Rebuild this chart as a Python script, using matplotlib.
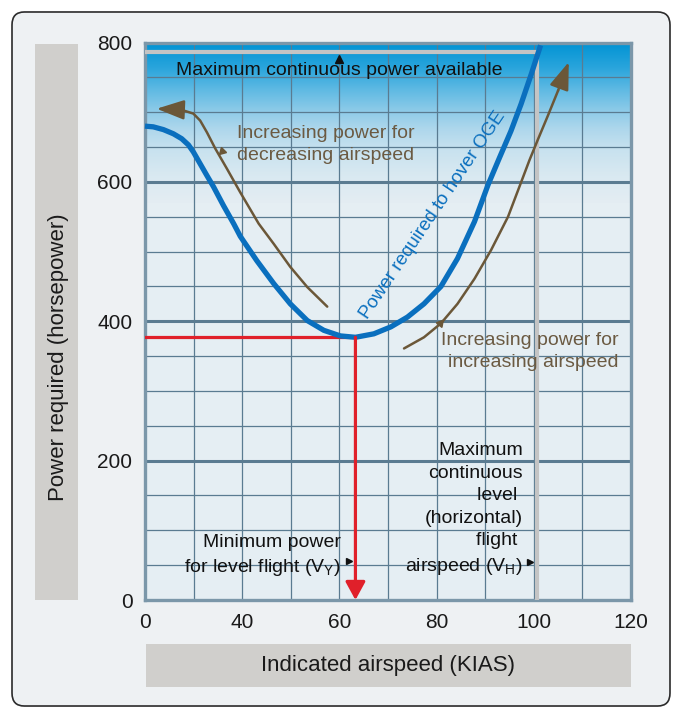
import numpy as np
import matplotlib
matplotlib.use("Agg")
import matplotlib.pyplot as plt
from matplotlib.patches import FancyBboxPatch, Rectangle
from matplotlib.colors import LinearSegmentedColormap

plt.rcParams['font.family'] = ['Liberation Sans', 'DejaVu Sans']

# power required curve (KIAS, hp)
curve_kias = [0, 3.4, 7.6, 11.7, 15.1, 17.9, 19.9, 22.7, 25.5, 28.2, 32.3, 36.5, 39.2,
              43, 46.5, 49.9, 53.4, 56.8, 60.2, 63.3, 67.1, 70.6, 74, 77.4, 80.9, 84.3,
              87.8, 90.6, 92.9, 95.3, 97.4, 99.5, 101.4]
curve_hp = [680, 679, 675, 669, 662, 653, 643, 626, 609, 593, 566, 540, 522,
            487, 454, 425, 401, 387, 379, 377, 382, 392, 406, 425, 450, 490,
            543, 596, 634, 673, 712, 755, 796]

# brown arrow, decreasing airspeed (drawn from tail to head)
dec_kias = [57.5, 53.4, 49.9, 46.5, 43.4, 39.2, 33.7, 28.9, 25.5, 22.7, 19.9, 15.8, 11.7, 4.8]
dec_hp = [421, 449, 478, 511, 540, 585, 619, 648, 671, 688, 698, 702.5, 704, 705]

# brown arrow, increasing airspeed
inc_kias = [73.3, 77.4, 80.9, 84.3, 87.8, 91.2, 94.7, 97.8, 99.1, 100.8, 102.9, 105, 107.2]
inc_hp = [361, 377, 397, 425, 461, 502, 550, 607, 631, 660, 695, 731, 772]

min_power_kias = 63.3
min_power_hp = 377
vh_kias = 100.6
max_cont_hp = 786

x_ticks = [0, 40, 60, 80, 100, 120]
y_ticks = [0, 200, 400, 600, 800]

blue = '#0a6fbe'
brown = '#6b5738'
brown_text = '#6b5a42'
red = '#e0202a'
gray = '#c4c4c4'
grid_c = '#5a7b91'


# axis is squeezed between 0 and 40 knots
def fwd(v):
    v = np.asarray(v, dtype=float)
    return np.where(v < 40, v / 2.0, v - 20.0)


def inv(u):
    u = np.asarray(u, dtype=float)
    return np.where(u < 20, u * 2.0, u + 20.0)


fig = plt.figure(figsize=(6.82, 7.18), dpi=100)
fig.patch.set_facecolor('white')

# outer frame and label boxes
fig.patches.append(FancyBboxPatch((0.0176, 0.0167), 0.9648, 0.9666,
                                  boxstyle='round,pad=0,rounding_size=0.018',
                                  transform=fig.transFigure, facecolor='#eef1f3',
                                  edgecolor='#2b2b2b', linewidth=1.2, zorder=0))
fig.patches.append(Rectangle((0.0513, 0.1643), 0.063, 0.7744, transform=fig.transFigure,
                             facecolor='#d0cfcc', edgecolor='none', zorder=1))
fig.patches.append(Rectangle((0.2141, 0.0432), 0.7111, 0.0599, transform=fig.transFigure,
                             facecolor='#d0cfcc', edgecolor='none', zorder=1))
fig.text(0.0865, 0.503, 'Power required (horsepower)', rotation=90, ha='center', va='center',
         fontsize=16, color='#1a1a1a')
fig.text(0.569, 0.0738, 'Indicated airspeed (KIAS)', ha='center', va='center',
         fontsize=16, color='#1a1a1a')

ax = fig.add_axes([0.2126, 0.1643, 0.7126, 0.7765])
ax.set_zorder(3)
ax.set_xscale('function', functions=(fwd, inv))
ax.set_xlim(0, 120)
ax.set_ylim(0, 800)
ax.set_facecolor('#e5eef3')

# blue gradient at the top
cmap = LinearSegmentedColormap.from_list('sky', [
    (0.0, '#e4edf3'), (0.17, '#d9e9f1'), (0.33, '#c8e2ef'), (0.46, '#aed7ec'),
    (0.58, '#8bcae8'), (0.71, '#5db9e3'), (0.84, '#2aa5dc'), (1.0, '#0093d4')])
grad = np.linspace(0, 1, 256).reshape(-1, 1)
ax.imshow(grad, cmap=cmap, aspect='auto', origin='lower', extent=[0, 1, 570 / 800, 1],
          transform=ax.transAxes, zorder=0, interpolation='bicubic')

# grid
for v in [20, 40, 50, 60, 70, 80, 90, 100, 110]:
    ax.axvline(v, color=grid_c, lw=0.9, zorder=1)
for h in range(50, 800, 50):
    ax.axhline(h, color=grid_c, lw=2.2 if h % 200 == 0 else 0.9, zorder=1)

for s in ax.spines.values():
    s.set_color('#7b97a9')
    s.set_linewidth(2.4)

ax.set_xticks(x_ticks)
ax.set_xticklabels([str(t) for t in x_ticks])
ax.set_yticks(y_ticks)
ax.minorticks_off()
ax.tick_params(length=0, labelsize=15, colors='#1a1a1a')
ax.tick_params(axis='y', pad=9)
ax.tick_params(axis='x', pad=9)

# max continuous power / VH lines
ax.plot([0, vh_kias], [max_cont_hp, max_cont_hp], color=gray, lw=3, zorder=3, clip_on=False,
        solid_capstyle='butt')
ax.plot([vh_kias, vh_kias], [max_cont_hp, 0], color=gray, lw=3, zorder=3, solid_capstyle='butt')

# red min power lines
ax.plot([0, min_power_kias], [min_power_hp, min_power_hp], color=red, lw=2.3, zorder=4)
ax.annotate('', xy=(min_power_kias, 0), xytext=(min_power_kias, min_power_hp),
            arrowprops=dict(arrowstyle='-|>,head_length=0.55,head_width=0.3',
                            mutation_scale=20, color=red, lw=2.3, shrinkA=0, shrinkB=0),
            zorder=6, annotation_clip=False)

# brown arrows
for xs, ys in [(dec_kias, dec_hp), (inc_kias, inc_hp)]:
    ax.plot(xs[:-1], ys[:-1], color=brown, lw=1.8, zorder=4, solid_capstyle='round',
            solid_joinstyle='round')
    ax.annotate('', xy=(xs[-1], ys[-1]), xytext=(xs[-2], ys[-2]),
                arrowprops=dict(arrowstyle='-|>,head_length=1.4,head_width=0.5',
                                mutation_scale=12, color=brown, lw=1.8, shrinkA=0, shrinkB=0),
                zorder=4)
ax.plot([31.7], [645], marker=(3, 0, 15), color=brown, ms=6, zorder=4)
ax.plot([80.6], [398], marker=(3, 0, 200), color=brown, ms=6, zorder=4)

# power required curve
ax.plot(curve_kias, curve_hp, color=blue, lw=3.8, zorder=5, solid_capstyle='butt',
        solid_joinstyle='round', clip_on=False)

# text
ax.text(60, 760, 'Maximum continuous power available', ha='center', va='center',
        fontsize=14, color='#111111', zorder=7)
ax.plot([60], [777], marker='^', color='#111111', ms=6, zorder=7)
ax.text(37.8, 654, 'Increasing power for\ndecreasing airspeed', ha='left', va='center',
        fontsize=14, color=brown_text, linespacing=1.42, zorder=7)
ax.text(117.4, 357, 'Increasing power for\nincreasing airspeed', ha='right', va='center',
        multialignment='right', fontsize=14, color=brown_text, linespacing=1.42, zorder=7)
ax.text(79.3, 553, 'Power required to hover OGE', rotation=56, rotation_mode='anchor',
        ha='center', va='center', fontsize=13.5, color=blue, zorder=7)
ax.text(60.3, 63, 'Minimum power\nfor level flight (V$_\\mathregular{Y}$)', ha='right',
        va='center', multialignment='right', fontsize=14, color='#111111',
        linespacing=1.42, zorder=7)
ax.plot([61.9], [56], marker='>', color='#111111', ms=5, zorder=7)
ax.text(97.8, 130, 'Maximum\ncontinuous\nlevel \n(horizontal)\nflight \nairspeed (V$_\\mathregular{H}$)',
        ha='right', va='center', multialignment='right', fontsize=14, color='#111111',
        linespacing=1.42, zorder=7)
ax.plot([99.3], [55], marker='>', color='#111111', ms=5, zorder=7)

fig.savefig('out.png', dpi=100, facecolor=fig.get_facecolor())
